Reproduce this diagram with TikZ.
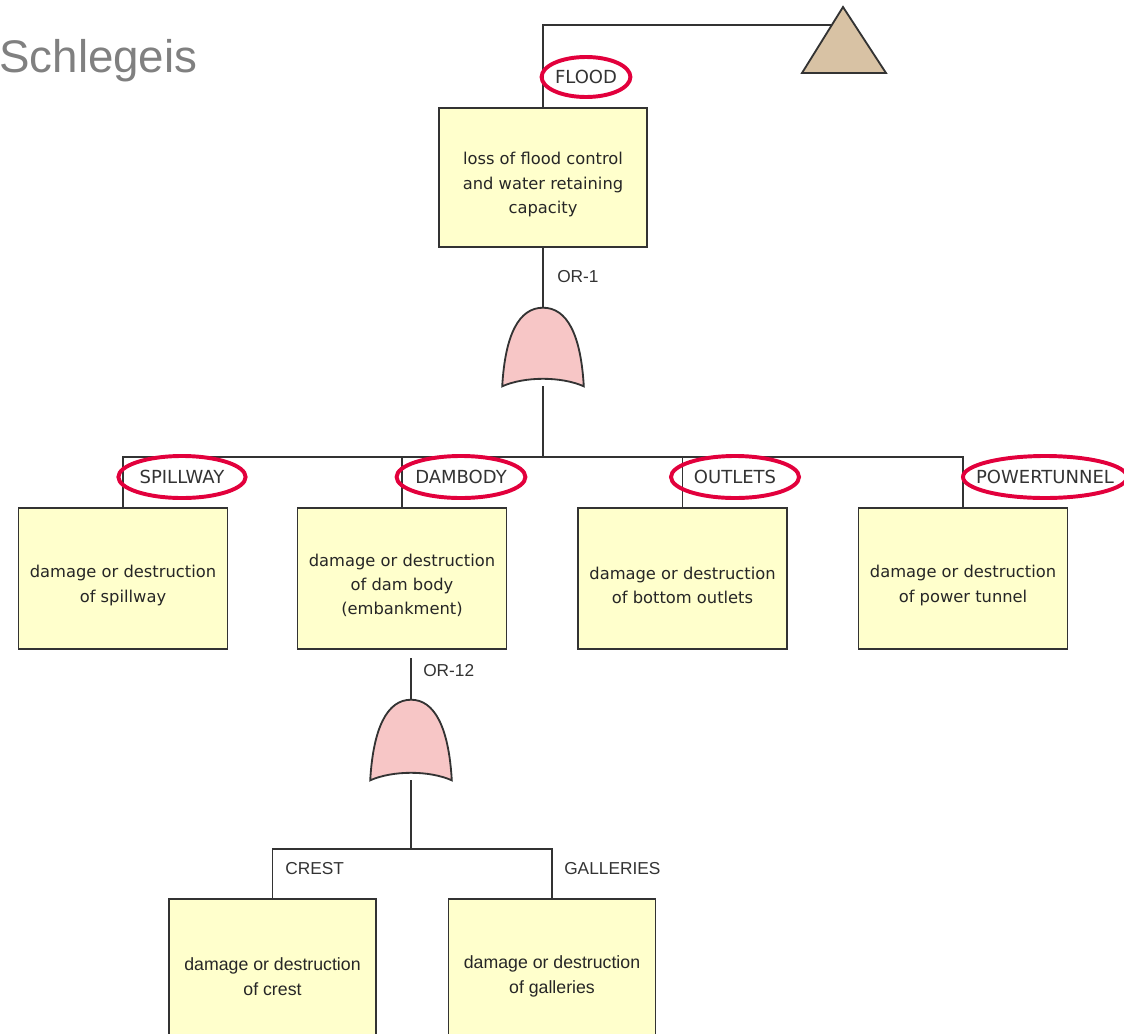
\documentclass[tikz,border=0pt]{standalone}
\usepackage{fontspec}
\setmainfont{Liberation Sans}
\newfontfamily\boxfont{DejaVu Sans}
\usetikzlibrary{calc}
\definecolor{evyellow}{HTML}{FFFFCC}
\definecolor{gatepink}{HTML}{F7C6C6}
\definecolor{xfertan}{HTML}{D8C2A4}
\definecolor{ringred}{HTML}{E2003C}
\definecolor{linegray}{HTML}{333333}
\definecolor{titlegray}{HTML}{808080}
\tikzset{
    wire/.style={draw=linegray, line width=1.3pt}
}
\tikzset{
    event/.style={rectangle, draw=linegray, line width=1.3pt, fill=evyellow,
        minimum width=5.225cm, minimum height=3.525cm, inner sep=0pt},
    evtext/.style={align=center, inner sep=0pt, yshift=-5pt, text=black!85,
        font=\boxfont\fontsize{11.6}{17.3}\selectfont},
    lowtext/.style={evtext, font=\fontsize{12.6}{17.3}\selectfont},
    tag/.style={inner sep=0pt, text=black!80,
        font=\boxfont\fontsize{12.8}{15}\selectfont},
    gatetag/.style={anchor=west, inner sep=0pt, text=black!80,
        font=\fontsize{12.3}{14}\selectfont},
    ring/.style={draw=ringred, line width=2.8pt},
    gate/.style={minimum width=2.025cm, minimum height=1.95cm, inner sep=0pt}
}
\newcommand{\orgate}[1]{%
    \draw[wire, fill=gatepink] (#1.south west)
        .. controls ($(#1.south west)+(3,-52)$) and ($(#1.north)+(-24,0)$) .. (#1.north)
        .. controls ($(#1.north)+(24,0)$) and ($(#1.south east)+(-3,-52)$) .. (#1.south east)
        .. controls ($(#1.south)+(18,-10)$) and ($(#1.south)+(-18,-10)$) .. (#1.south west)
        -- cycle;}

\begin{document}
\begin{tikzpicture}[x=0.025cm, y=-0.025cm]
	\useasboundingbox (0,0) rectangle (1124,1033);
	\clip (0,0) rectangle (1124,1033);

	\node[anchor=base west, inner sep=0pt, text=titlegray,
		font=\fontsize{32.5}{36}\selectfont] (title) at (-1,72) {Schlegeis};

	\node[event, minimum width=5.2cm, minimum height=3.475cm,
		label={[evtext]center:{loss of flood control\\and water retaining\\capacity}}]
		(top) at (543,177.5) {};
	\node[gate] (g1) at (543,347) {};
	\node[gatetag] (or1) at (557,277) {OR-1};

	\node[event, label={[evtext]center:{damage or destruction\\of spillway}}]
		(spill) at (123,578.5) {};
	\node[event, label={[evtext]center:{damage or destruction\\of dam body\\(embankment)}}]
		(dam) at (402,578.5) {};
	\node[event, label={[evtext]center:{damage or destruction\\of bottom outlets}}]
		(outl) at (682.5,578.5) {};
	\node[event, label={[evtext]center:{damage or destruction\\of power tunnel}}]
		(power) at (963,578.5) {};

	\node[tag] (lflood) at (586,77) {FLOOD};
	\node[tag] (lspill) at (182,477) {SPILLWAY};
	\node[tag] (ldam) at (461,477) {DAMBODY};
	\node[tag] (loutl) at (735,477) {OUTLETS};
	\node[tag] (lpower) at (1045,477) {POWERTUNNEL};

	\node[gate, minimum height=2cm] (g2) at (411,740) {};
	\node[gatetag] (or12) at (423,671) {OR-12};

	\node[event, minimum width=5.175cm,
		label={[lowtext]center:{damage or destruction\\of crest}}]
		(crest) at (272.5,969.5) {};
	\node[event, minimum width=5.175cm,
		label={[lowtext]center:{damage or destruction\\of galleries}}]
		(gall) at (552,969.5) {};
	\node[gatetag] (lcrest) at (285,869) {CREST};
	\node[gatetag] (lgall) at (564,869) {GALLERIES};

	\coordinate (xin) at (831,25);
	\coordinate (j1) at (543,457);
	\coordinate (j2) at (411,849);

	\draw[wire] (top.north) |- (xin);
	\draw[wire, fill=xfertan, line join=miter] (802,73) -- (843,7) -- (886,73) -- cycle;

	\draw[wire] (top.south) -- (g1.north);
	\draw[wire] (g1.south) -- (j1);
	\draw[wire] (spill.north) |- (j1) -| (power.north);
	\draw[wire] (dam.north) -- (dam.north |- j1);
	\draw[wire] (outl.north) -- (outl.north |- j1);
	\orgate{g1}

	\draw[wire, shorten >=0.2cm] (g2.north) -- (g2.north |- dam.south);
	\draw[wire] (g2.south) -- (j2);
	\draw[wire] (crest.north) |- (j2) -| (gall.north);
	\orgate{g2}

	\draw[ring] (lflood) ellipse [x radius=1.11cm, y radius=0.5cm];
	\draw[ring] (lspill) ellipse [x radius=1.59cm, y radius=0.525cm];
	\draw[ring] (ldam) ellipse [x radius=1.61cm, y radius=0.525cm];
	\draw[ring] (loutl) ellipse [x radius=1.6cm, y radius=0.525cm];
	\draw[ring] (lpower) ellipse [x radius=2.05cm, y radius=0.525cm];
\end{tikzpicture}
\end{document}
